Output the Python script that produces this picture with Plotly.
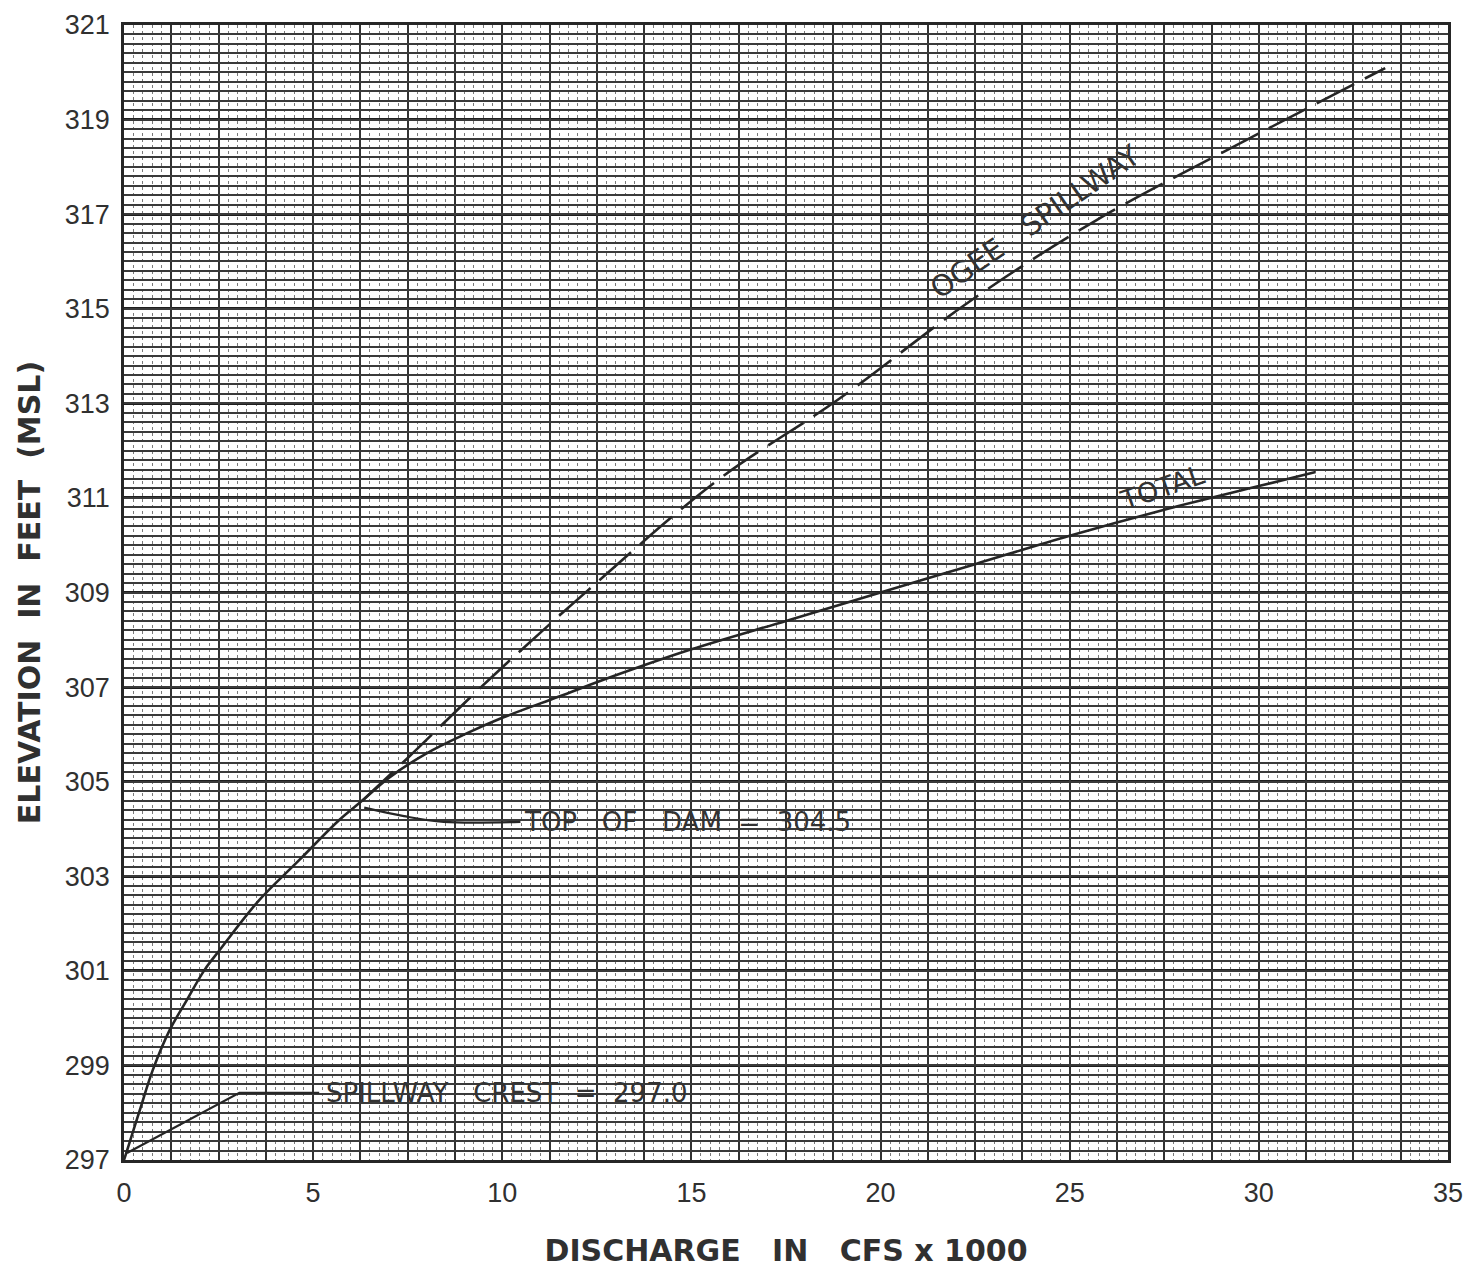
import plotly.graph_objects as go

# ---- data ----
total_q = [0.0, 0.08, 0.42, 0.76, 1.21, 1.66, 2.13, 2.53, 3.58, 4.63, 5.69, 6.3, 7.0, 8.0, 9.0, 10.0,
           11.5, 13.0, 15.0, 17.5, 20.0, 22.5, 25.0, 27.5, 30.0, 31.5]
total_elev = [297.0, 297.2, 298.06, 298.9, 299.75, 300.38, 301.02, 301.44, 302.5, 303.34, 304.19,
              304.6, 305.08, 305.6, 306.0, 306.35, 306.8, 307.25, 307.8, 308.4, 309.0, 309.6,
              310.2, 310.75, 311.25, 311.55]

ogee_q = [6.3, 7.5, 9.64, 12.27, 15.7, 18.86, 22.4, 25.7, 29.65, 33.34]
ogee_elev = [304.6, 305.5, 307.15, 309.05, 311.38, 313.07, 315.18, 316.87, 318.56, 320.09]

crest_leader_q = [0.08, 3.05, 5.16]
crest_leader_elev = [297.15, 298.42, 298.42]

dam_leader_q = [6.35, 7.4, 8.45, 10.48]
dam_leader_elev = [304.45, 304.27, 304.15, 304.15]

x_ticks = [0, 5, 10, 15, 20, 25, 30, 35]
x_tick_labels = ["0", "5", "10", "15", "20", "25", "30", "35"]
y_ticks = [297, 299, 301, 303, 305, 307, 309, 311, 313, 315, 317, 319, 321]
y_tick_labels = [str(v) for v in y_ticks]

INK = "#262626"
FONT = "Liberation Sans"

fig = go.Figure()

# invisible trace to host the graph-paper overlay axes
fig.add_trace(go.Scatter(x=[], y=[], xaxis="x2", yaxis="y2", showlegend=False, hoverinfo="skip"))

fig.add_trace(go.Scatter(x=total_q, y=total_elev, mode="lines", line=dict(color=INK, width=2.6, shape="spline"),
                         name="TOTAL", showlegend=False))
fig.add_trace(go.Scatter(x=ogee_q, y=ogee_elev, mode="lines",
                         line=dict(color=INK, width=2.6, shape="spline", dash="42px,12px"),
                         name="OGEE SPILLWAY", showlegend=False))
fig.add_trace(go.Scatter(x=crest_leader_q, y=crest_leader_elev, mode="lines",
                         line=dict(color=INK, width=2.2), showlegend=False, hoverinfo="skip"))
fig.add_trace(go.Scatter(x=dam_leader_q, y=dam_leader_elev, mode="lines",
                         line=dict(color=INK, width=2.2, shape="spline"), showlegend=False, hoverinfo="skip"))

label_font = dict(family="DejaVu Sans", size=26, color="#333333")
fig.add_annotation(x=5.29, y=298.42, xref="x", yref="y", text="SPILLWAY   CREST  =  297.0",
                   showarrow=False, xanchor="left", yanchor="middle", font=label_font)
fig.add_annotation(x=10.53, y=304.15, xref="x", yref="y", text="TOP   OF   DAM  =  304.5",
                   showarrow=False, xanchor="left", yanchor="middle", font=label_font)
fig.add_annotation(x=24.07, y=316.83, xref="x", yref="y", text="OGEE   SPILLWAY",
                   showarrow=False, textangle=-34.6, font=dict(family="DejaVu Sans", size=29, color="#333333"))
fig.add_annotation(x=27.44, y=311.21, xref="x", yref="y", text="TOTAL",
                   showarrow=False, textangle=-19, font=dict(family="DejaVu Sans", size=27, color="#333333"))

tick_font = dict(family=FONT, size=27, color="#303030")
title_font = dict(family="DejaVu Sans", size=30, color="#303030")

fig.update_layout(
    width=1456, height=1262,
    margin=dict(l=116, r=16, t=17, b=110),
    paper_bgcolor="white", plot_bgcolor="white",
    xaxis=dict(range=[0, 35], tickvals=x_ticks, ticktext=x_tick_labels, tickfont=tick_font,
               showgrid=True, gridcolor="#333333", gridwidth=1.5, zeroline=False,
               showline=True, mirror=True, linecolor=INK, linewidth=2.6, ticks="",
               ticklabelstandoff=7, automargin=False, ticklabeloverflow="allow",
               title=dict(text="<b>DISCHARGE   IN   CFS x 1000</b>", font=title_font, standoff=33)),
    yaxis=dict(range=[297, 321], tickvals=y_ticks, ticktext=y_tick_labels, tickfont=tick_font,
               showgrid=True, gridcolor="#1e1e1e", gridwidth=2.6, zeroline=False,
               showline=True, mirror=True, linecolor=INK, linewidth=2.6, ticks="",
               ticklabelstandoff=6, automargin=False, ticklabeloverflow="allow",
               title=dict(text="<b>ELEVATION  IN  FEET  (MSL)</b>", font=title_font, standoff=16)),
    xaxis2=dict(overlaying="x", side="top", range=[0, 35], tick0=0, dtick=1.25,
                showticklabels=False, ticks="", showline=False, zeroline=False, automargin=False,
                showgrid=True, gridcolor="#333333", gridwidth=1.5,
                minor=dict(tick0=0, dtick=0.25, showgrid=True, gridcolor="#7a7a7a",
                           gridwidth=1.2, griddash="dot", ticks="")),
    yaxis2=dict(overlaying="y", side="right", range=[297, 321], tick0=297, dtick=0.2,
                showticklabels=False, ticks="", showline=False, zeroline=False, automargin=False,
                showgrid=True, gridcolor="#3a3a3a", gridwidth=1.5),
)

fig.write_html("out.html")
